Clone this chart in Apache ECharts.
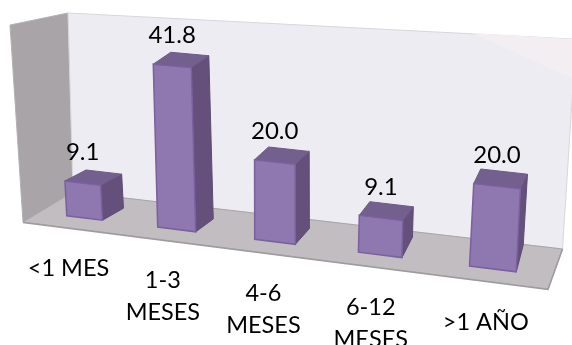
<!DOCTYPE html>
<html>
<head>
<meta charset="utf-8">
<style>html,body{margin:0;padding:0;background:#fff}#chart{width:572px;height:345px}</style>
<script src="https://cdn.jsdelivr.net/npm/echarts@6/dist/echarts.min.js"></script>
</head>
<body>
<div id="chart"></div>
<script>
// Duration groups and the share of cases in each one
const categories = ['<1 MES', '1-3\nMESES', '4-6\nMESES', '6-12\nMESES', '>1 AÑO'];
const shares = [9.1, 41.8, 20.0, 9.1, 20.0];

const FONT = 'Lato, "Noto Sans", sans-serif';
const GRID = { left: 40, top: 20, width: 510, height: 200 };
const BAR_FRACTION = 0.4;

// Oblique view: converts plot coordinates from the axes into the tilted front plane.
function frontPoint(px, py, centerPx) {
  const u = (px - GRID.left) / GRID.width;
  const lift = (GRID.top + GRID.height - py) / GRID.height;
  const along = t => (426 * t + 40.6) / (1 - 0.155 * t);
  const x = along(u);
  const cx = along((centerPx - GRID.left) / GRID.width);
  return [
    x + lift * 0.05 * (cx - 283),
    212.5 + 0.1248 * (x - 40.6) - lift * 190 * (1 + 0.1 * u)
  ];
}

// Receding edge of a bar; the edge shortens towards the right and differs at base and top.
function depthAt(u) {
  const t = (u - 0.1) / 0.8;
  return {
    dx: 21 - 14 * t,
    base: -12 - 15 * t * t,
    top: -11 - 3.5 * t
  };
}

function renderBar(params, api) {
  const index = api.value(0);
  const value = api.value(1);
  const [cx, topY] = api.coord([index, value]);
  const [, baseY] = api.coord([index, 0]);
  const half = api.size([1, 0])[0] * BAR_FRACTION / 2;
  const d = depthAt((cx - GRID.left) / GRID.width);

  const bl = frontPoint(cx - half, baseY, cx);
  const br = frontPoint(cx + half, baseY, cx);
  const tr = frontPoint(cx + half, topY, cx);
  const tl = frontPoint(cx - half, topY, cx);
  const backBase = [br[0] + d.dx, br[1] + d.base];
  const backTopR = [tr[0] + d.dx, tr[1] + d.top];
  const backTopL = [tl[0] + d.dx, tl[1] + d.top];
  const topMid = frontPoint(cx, topY, cx);
  const baseMid = frontPoint(cx, baseY, cx);

  const face = (points, fill, stroke, lineWidth) => ({
    type: 'polygon',
    shape: { points },
    style: { fill, stroke, lineWidth }
  });

  return {
    type: 'group',
    children: [
      face([tr, backTopR, backBase, br], '#64507b', '#5f4b76', 1),
      face([tl, tr, backTopR, backTopL], '#73608f', '#6d5a88', 1),
      face([tl, tr, br, bl], '#8f78b0', '#7a609f', 1.5),
      {
        type: 'text',
        style: {
          x: topMid[0], y: topMid[1] - 31,
          text: value.toFixed(1),
          font: `24px ${FONT}`,
          fill: '#000', align: 'center', verticalAlign: 'middle'
        }
      },
      {
        type: 'text',
        style: {
          x: baseMid[0] - 16 + 9 * (index / 4),
          y: baseMid[1] + 34 + 3 * (index / 4),
          text: categories[index],
          font: `23.5px ${FONT}`,
          lineHeight: 32,
          fill: '#000', align: 'center', verticalAlign: 'top'
        }
      }
    ]
  };
}

const chart = echarts.init(document.getElementById('chart'), null, { renderer: 'canvas' });
chart.setOption({
  animation: false,
  backgroundColor: '#fff',
  grid: GRID,
  xAxis: { type: 'category', data: categories, show: false },
  yAxis: { type: 'value', min: 0, max: 50, interval: 10, show: false },
  graphic: { elements: [
    { type: 'polygon', z: 0, shape: { points: [[10,25],[68,13],[73,192],[23,222]] },
      style: { fill: '#a8a4a8', stroke: '#b4b1b5', lineWidth: 1 } },
    { type: 'polygon', z: 0, shape: { points: [[68,13],[576,39.2],[562.5,249],[73,192]] },
      style: { fill: '#edecf2', stroke: '#d8d6da', lineWidth: 1 } },
    { type: 'polygon', z: 0, shape: { points: [[472,33],[576,39.2],[576,80]] },
      style: { fill: '#f3eef2' } },
    { type: 'polygon', z: 0, shape: { points: [[23,222],[73,192],[562.5,249],[548,289]] },
      style: { fill: '#c1bdc1', stroke: '#a8a4a8', lineWidth: 1 } },
    { type: 'polyline', z: 0, shape: { points: [[23,222.5],[548,289.5],[562.5,249]] },
      style: { fill: null, stroke: '#9f9b9f', lineWidth: 1.6 } }
  ] },
  series: [{
    type: 'custom',
    coordinateSystem: 'cartesian2d',
    clip: false,
    z: 2,
    renderItem: renderBar,
    data: shares.map((v, i) => [i, v])
  }]
});
</script>
</body>
</html>
